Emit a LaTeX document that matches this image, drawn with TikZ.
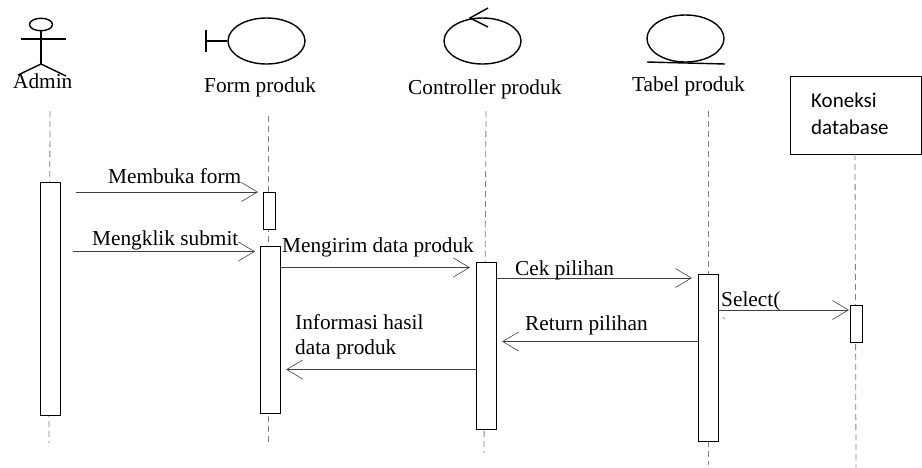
\documentclass[tikz,border=0pt]{standalone}
\usepackage{fontspec}
\setmainfont{Liberation Serif}
\newfontfamily\boxfont{Carlito}
\usetikzlibrary{arrows.meta,shapes.geometric}
\tikzset{
  every node/.style={inner sep=0pt,font=\fontsize{21.3}{24}\selectfont},
  word/.style={anchor=base west},
  icon/.style={line width=1.4pt},
  bar/.style={draw,line width=1.1pt,fill=white,rectangle,minimum width=#1,anchor=north west},
  life/.style={dashed,gray,line width=.8pt,dash pattern=on 6pt off 4pt},
  msg/.style={draw=black!75,line width=.9pt},
}
\begin{document}
\begin{tikzpicture}[x=1pt,y=-1pt,>={Straight Barb[length=16pt,width=19pt,line width=.6pt]}]
\useasboundingbox (0,0) rectangle (922,467);
% rows of the messages
\coordinate (buka) at (0,192);
\coordinate (klik) at (0,251.5);
\coordinate (kirim) at (0,267.5);
\coordinate (cek) at (0,278);
\coordinate (sel) at (0,310);
\coordinate (ret) at (0,341.5);
\coordinate (info) at (0,369.5);
% ends of the lifelines
\coordinate (adminTop) at (50,111);\coordinate (adminEnd) at (49,443);
\coordinate (formTop) at (268,116);\coordinate (formEnd) at (268,445);
\coordinate (ctrlTop) at (486,111);\coordinate (ctrlEnd) at (484,453);
\coordinate (tabelTop) at (708,111);\coordinate (tabelEnd) at (708,465);
\coordinate (dbTop) at (855,154);\coordinate (dbEnd) at (856,467);
% actor
\node[draw,icon,ellipse,minimum width=23pt,minimum height=12.5pt] (adminHead) at (41,24.5){};
\coordinate (adminHip) at (41,64);
\coordinate (adminArmL) at (21,39);\coordinate (adminArmR) at (66,39);
\coordinate (adminLegL) at (18,75);\coordinate (adminLegR) at (66,76);
\draw[icon] (adminHead.south) -- (adminHip);
\draw[icon] (adminArmL) -- (adminArmR);
\draw[icon] (adminHip) -- (adminLegL);
\draw[icon] (adminHip) -- (adminLegR);
\node[word] (adminText) at (13,88.5){Admin};
% boundary
\node[draw,icon,ellipse,minimum width=77pt,minimum height=46pt] (formIcon) at (266.5,41){};
\coordinate (formBarT) at (206,29.5);\coordinate (formBarB) at (206,52);
\draw[icon] (formBarT) -- (formBarB);
\draw[icon] (formIcon.west) -- (formBarT |- formIcon.west);
\node[word] (formText) at (204,92.5){Form produk};
% control
\node[draw,icon,ellipse,minimum width=77pt,minimum height=46pt] (ctrlIcon) at (482.5,41){};
\coordinate (ctrlTip) at (470,18);\coordinate (ctrlUp) at (488,8);\coordinate (ctrlDown) at (488,27);
\draw[icon] (ctrlUp) -- (ctrlTip) -- (ctrlDown);
\node[word] (ctrlText) at (408,94){Controller produk};
% entity
\node[draw,icon,ellipse,minimum width=77pt,minimum height=47pt] (tabelIcon) at (685.5,38.5){};
\coordinate (tabelLineL) at (647,62);\coordinate (tabelLineR) at (725,64);
\draw[icon] (tabelLineL) -- (tabelLineR);
\node[word] (tabelText) at (632,91.5){Tabel produk};
% box
\node[draw,line width=1.4pt,rectangle,minimum width=131pt,minimum height=78pt,anchor=north west] (dbBox) at (790,76){};
\node[word,font=\boxfont\fontsize{21}{24}\selectfont] (dbText1) at (811,107){Koneksi};
\node[word,font=\boxfont\fontsize{21}{24}\selectfont] (dbText2) at (811,134){database};
% lifelines
\draw[life] (adminTop) -- (adminEnd);
\draw[life] (formTop) -- (formEnd);
\draw[life] (ctrlTop) -- (ctrlEnd);
\draw[life] (tabelTop) -- (tabelEnd);
\draw[life] (dbTop) -- (dbEnd);
% activations
\node[bar=20.5pt,minimum height=233.5pt] (adminBar) at (39.5,181.5){};
\node[bar=11.5pt,minimum height=37pt] (bukaBar) at (263,191.5){};
\node[bar=20.5pt,minimum height=167pt] (formBar) at (259.5,245.5){};
\node[bar=20.5pt,minimum height=167pt] (ctrlBar) at (475.5,261.5){};
\node[bar=20.5pt,minimum height=167pt] (tabelBar) at (697.5,273.5){};
\node[bar=11.5pt,minimum height=36.5pt] (dbBar) at (850,305){};
% messages
\draw[msg,shorten <=15pt,shorten >=5pt][->] (adminBar.east |- buka) -- (bukaBar.west |- buka);
\draw[msg,shorten <=12pt,shorten >=4.5pt][->] (adminBar.east |- klik) -- (formBar.west |- klik);
\draw[msg,shorten >=5.5pt][->] (formBar.east |- kirim) -- (ctrlBar.west |- kirim);
\draw[msg,shorten >=5.5pt][->] (ctrlBar.east |- cek) -- (tabelBar.west |- cek);
\draw[msg,shorten >=1pt][->] (tabelBar.east |- sel) -- (dbBar.west |- sel);
\draw[msg,shorten >=5pt][->] (tabelBar.west |- ret) -- (ctrlBar.east |- ret);
\draw[msg,shorten >=5pt][->] (ctrlBar.west |- info) -- (formBar.east |- info);
\node[word] (bukaText) at (108,183){Membuka form};
\node[word] (klikText) at (92,245){Mengklik submit};
\node[word] (kirimText) at (282,252.5){Mengirim data produk};
\node[word] (cekText) at (515,275){Cek pilihan};
\node[word] (selText) at (721,306.5){Select(};
\node[word] (retText) at (525,330){Return pilihan};
\node[word] (infoText1) at (295,329){Informasi hasil};
\node[word] (infoText2) at (295,354){data produk};
\draw[gray,line width=.6pt] (722.5,317) -- (725,319);
\end{tikzpicture}
\end{document}
